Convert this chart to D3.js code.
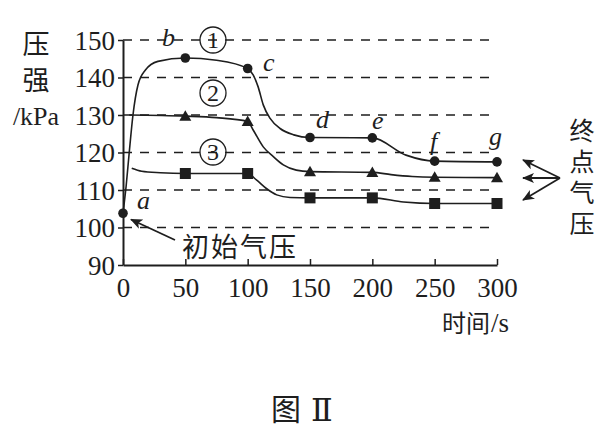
<!DOCTYPE html>
<html><head><meta charset="utf-8">
<script src="https://cdn.jsdelivr.net/npm/d3@7/dist/d3.min.js"></script>
<style>
html,body{margin:0;padding:0;background:#fff;}
svg{display:block;}
</style></head>
<body>
<svg id="chart" width="611" height="430"></svg>
<script>
// ---- data ----
const xTicks = [0, 50, 100, 150, 200, 250, 300];
const yTicks = [90, 100, 110, 120, 130, 140, 150];
const gridValues = [100, 110, 120, 130, 140, 150];
const markerTimes = [50, 100, 150, 200, 250, 300];
const s1Values = [145.2, 142.4, 124.0, 123.9, 117.7, 117.5];
const s2Values = [129.7, 128.3, 114.9, 114.7, 113.4, 113.3];
const s3Values = [114.4, 114.4, 107.9, 107.9, 106.4, 106.4];
const startPoint = [0, 103.8];
// traced curve waypoints [time, kPa]
const s1Curve = [[0,103.8],[2.5,111],[5,120],[8,130],[12,138],[18,142],[28,144.3],[50,145.2],[75,144.6],[100,142.4],[104.4,140.7],[108.4,137.5],[112.5,132.7],[118,129.1],[126,126.4],[137,124.7],[150,124.0],[200,123.9],[227,119.3],[250,117.7],[300,117.5]];
const s2Curve = [[5,130],[50,129.7],[75,129.3],[100,128.3],[104.4,126],[112.5,121.5],[120.6,118.9],[128.6,116.7],[139,115.3],[150,114.9],[200,114.7],[215,114.1],[232,113.6],[250,113.4],[300,113.3]];
const s3Curve = [[7,115.8],[15,115.0],[30,114.6],[50,114.4],[100,114.4],[107,112.7],[115,110.4],[123.3,108.7],[134,108.0],[150,107.9],[200,107.9],[225,106.8],[250,106.4],[300,106.4]];
const pointLetters = ["a","b","c","d","e","f","g"];
const circledLabels = ["1","2","3"];
const yTitle = ["压","强","/kPa"];
const rightTitle = "终点气压";

// ---- drawing ----
const ink = "#1e1e1e";
const SERIF = "'Liberation Serif', 'Times New Roman', 'DejaVu Serif', serif";
const CJK = "'Noto Sans CJK SC', 'Noto Sans CJK JP', sans-serif";
const svg = d3.select("#chart");
const x = d3.scaleLinear().domain([0, 300]).range([123, 497]);
const y = d3.scaleLinear().domain([90, 150]).range([265, 40]);

const defs = svg.append("defs");
defs.append("marker").attr("id","ah").attr("viewBox","0 0 12 10").attr("refX",11).attr("refY",5)
  .attr("markerWidth",12).attr("markerHeight",10).attr("markerUnits","userSpaceOnUse").attr("orient","auto")
  .append("path").attr("d","M0,0 L12,5 L0,10 L3,5 Z").attr("fill",ink);

// grid
svg.append("g").selectAll("line").data(gridValues).join("line")
  .attr("x1", x(0)).attr("x2", x(294))
  .attr("y1", d => y(d)).attr("y2", d => y(d))
  .attr("stroke", ink).attr("stroke-width", 1.4).attr("stroke-dasharray", "9,8");

// axes
const yAxis = svg.append("g").attr("transform", `translate(${x(0)},0)`)
  .call(d3.axisLeft(y).tickValues(yTicks).tickSize(5).tickPadding(3).tickSizeOuter(0));
yAxis.attr("font-family", null);
yAxis.select(".domain").attr("stroke", ink).attr("stroke-width", 2);
yAxis.selectAll(".tick line").attr("stroke", ink).attr("stroke-width", 1.5);
yAxis.selectAll("text").style("font-family", SERIF).style("font-size", "27px").attr("fill", ink).attr("dy","0.34em");

const xAxis = svg.append("g").attr("transform", `translate(0,${y(90)})`)
  .call(d3.axisBottom(x).tickValues(xTicks).tickSize(-6).tickSizeOuter(0).tickPadding(0));
xAxis.attr("font-family", null);
xAxis.select(".domain").attr("stroke", ink).attr("stroke-width", 2);
xAxis.selectAll(".tick line").attr("stroke", ink).attr("stroke-width", 1.5);
xAxis.selectAll("text").style("font-family", SERIF).style("font-size", "27px").attr("fill", ink).attr("y", 32).attr("dy", 0);

// curves
const line = d3.line().x(d => x(d[0])).y(d => y(d[1])).curve(d3.curveMonotoneX);
[s1Curve, s2Curve, s3Curve].forEach(c => {
  svg.append("path").datum(c).attr("d", line).attr("fill","none").attr("stroke", ink).attr("stroke-width", 1.6);
});

// markers
const m1 = markerTimes.map((t,i) => [t, s1Values[i]]);
svg.append("g").selectAll("circle").data([startPoint, ...m1]).join("circle")
  .attr("cx", d => x(d[0])).attr("cy", d => y(d[1])).attr("r", 4.8).attr("fill", ink);
const m2 = markerTimes.map((t,i) => [t, s2Values[i]]);
svg.append("g").selectAll("path").data(m2).join("path")
  .attr("transform", d => `translate(${x(d[0])},${y(d[1])})`)
  .attr("d", "M0,-6 L6,4.5 L-6,4.5 Z").attr("fill", ink);
const m3 = markerTimes.map((t,i) => [t, s3Values[i]]);
svg.append("g").selectAll("rect").data(m3).join("rect")
  .attr("x", d => x(d[0]) - 5.5).attr("y", d => y(d[1]) - 5.5).attr("width", 11).attr("height", 11).attr("fill", ink);

// point letters
const letterPos = [[137,209],[162,46],[263,71],[316,128],[372,129],[430,150],[489,145]];
svg.append("g").selectAll("text").data(pointLetters).join("text")
  .style("font-family", SERIF).style("font-style","italic").style("font-size", "26px").attr("fill", ink)
  .attr("x", (d,i) => letterPos[i][0]).attr("y", (d,i) => letterPos[i][1]).text(d => d);

// circled numbers
const circPos = [[213,40],[213,93],[213,152]];
const cg = svg.append("g").selectAll("g").data(circledLabels).join("g")
  .attr("transform", (d,i) => `translate(${circPos[i][0]},${circPos[i][1]})`);
cg.append("circle").attr("r", 13).attr("fill","none").attr("stroke", ink).attr("stroke-width", 1.3);
cg.append("text").style("font-family", SERIF).style("font-size", "24px").attr("fill", ink)
  .attr("text-anchor","middle").attr("dy","0.35em").text(d => d);

// y title
const ytPos = [[36,44],[36,80],[36,116]];
svg.append("g").selectAll("text").data(yTitle).join("text")
  .style("font-family", d => d.length > 1 ? SERIF : CJK).style("font-size", d => d.length > 1 ? "26px" : "27px").attr("fill", ink)
  .attr("text-anchor","middle").attr("x",(d,i)=>ytPos[i][0]).attr("y",(d,i)=>ytPos[i][1]).attr("dy","0.36em").text(d => d);

// x title
svg.append("text").style("font-family", CJK).style("font-size", "24px").attr("fill", ink)
  .attr("x", 442).attr("y", 332).text("时间");
svg.append("text").style("font-family", SERIF).style("font-size", "27px").attr("fill", ink)
  .attr("x", 491).attr("y", 332).text("/s");

// initial pressure note
svg.append("text").style("font-family", CJK).style("font-size", "27px").style("letter-spacing","2px").attr("fill", ink)
  .attr("x", 182).attr("y", 257).text("初始气压");
svg.append("line").attr("x1",175).attr("y1",240).attr("x2",131).attr("y2",219.5)
  .attr("stroke", ink).attr("stroke-width", 1.8).attr("marker-end","url(#ah)");

// end pressure note (vertical text)
svg.append("text").style("font-family", CJK).style("font-size", "25px").style("letter-spacing", "6px")
  .style("writing-mode", "vertical-rl").attr("fill", ink)
  .attr("x", 582).attr("y", 118).text(rightTitle);
[[523,160],[523,178],[523,200]].forEach(p => {
  svg.append("line").attr("x1",560).attr("y1",178).attr("x2",p[0]).attr("y2",p[1])
    .attr("stroke", ink).attr("stroke-width", 1.8).attr("marker-end","url(#ah)");
});

// caption
svg.append("text").style("font-family", CJK).style("font-size", "30px").attr("fill", ink)
  .attr("x", 271).attr("y", 420).text("图");
svg.append("text").style("font-family", SERIF).style("font-size", "32px").attr("fill", ink)
  .attr("x", 311).attr("y", 421).text("Ⅱ");
</script>
</body></html>
